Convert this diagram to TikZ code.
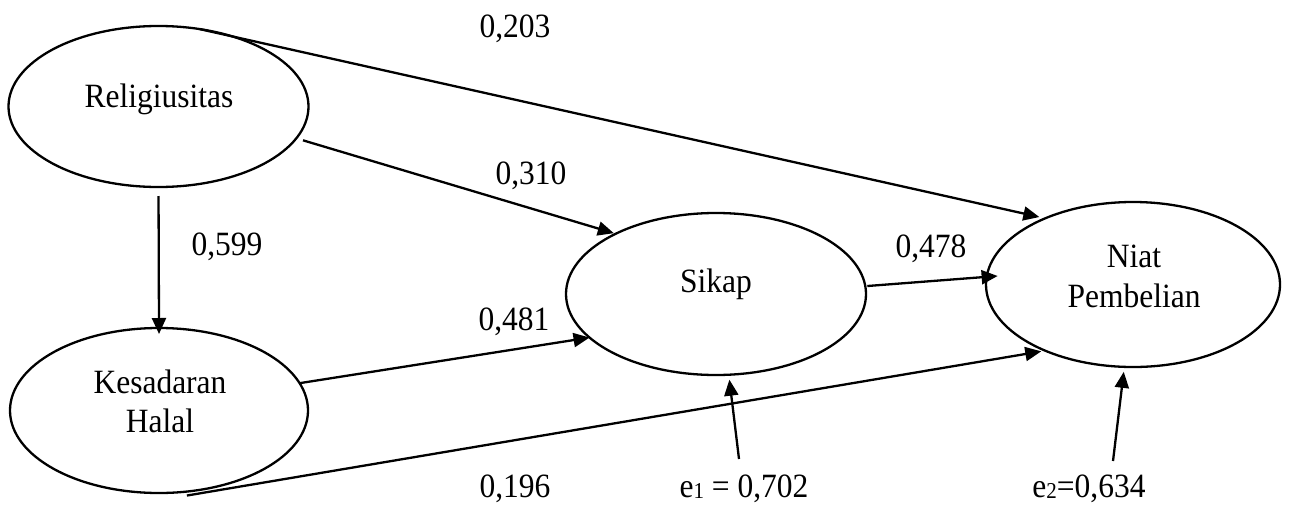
\documentclass[tikz,border=0pt]{standalone}
\usepackage{fontspec}
\setmainfont{Liberation Serif}
\usetikzlibrary{shapes.geometric,arrows.meta}
\newcommand{\vstretch}[1]{\scalebox{1}[1.08]{#1}}
\newcommand{\subidx}[1]{\raisebox{-1.5pt}{\fontsize{21}{21}\selectfont #1}}
\begin{document}
\begin{tikzpicture}[x=1pt,y=-1pt,
  var/.style={ellipse,draw,line width=2.3pt,inner sep=0pt,outer sep=0pt},
  txt/.style={anchor=base,inner sep=0pt,font=\fontsize{31.5}{36}\selectfont},
  link/.style={line width=2.3pt,-{Triangle[length=16pt,width=14pt]}}]
\useasboundingbox (0,0) rectangle (1289,506);
% latent variables
\node[var,minimum width=300pt,minimum height=161pt] (rel) at (158.5,106.5) {};
\node[var,minimum width=298pt,minimum height=165pt] (kh) at (159,410.5) {};
\node[var,minimum width=300pt,minimum height=162pt] (sik) at (716,294) {};
\node[var,minimum width=294pt,minimum height=165pt] (niat) at (1133,284.5) {};
% texts inside
\node[txt] (relT) at (159,107) {\vstretch{Religiusitas}};
\node[txt] (khT1) at (160,393) {\vstretch{Kesadaran}};
\node[txt] (khT2) at (160,432) {\vstretch{Halal}};
\node[txt] (sikT) at (716,292) {\vstretch{Sikap}};
\node[txt] (niatT1) at (1134,267) {\vstretch{Niat}};
\node[txt] (niatT2) at (1134,307) {\vstretch{Pembelian}};
% connectors
\draw[link,shorten >=6pt] (rel.62.4) -- (niat.143.2);
\draw[link,shorten <=7pt,shorten >=2pt] (rel.-13.5) -- (sik.149);
\draw[link,shorten <=9pt,shorten >=-6pt] (rel.south) -- (kh.north);
\draw[link] (kh.11) -- (sik.-161.4);
\draw[link,shorten >=4pt] ([shift={(0,4)}]kh.-71) -- (niat.-143);
\draw[link,shorten <=2pt,shorten >=-11pt] (sik.3) -- (niat.177);
\coordinate (e1) at (739,459);
\coordinate (e2) at (1113,461);
\draw[link,shorten >=5pt] (e1) -- (sik.-81);
\draw[link,shorten >=5pt] (e2) -- (niat.-96.5);
% coefficients
\node[txt] (c203) at (515,37) {\vstretch{0,203}};
\node[txt] (c310) at (531,184) {\vstretch{0,310}};
\node[txt] (c599) at (227,255) {\vstretch{0,599}};
\node[txt] (c478) at (931,257) {\vstretch{0,478}};
\node[txt] (c481) at (514,330) {\vstretch{0,481}};
\node[txt] (c196) at (515,497) {\vstretch{0,196}};
\node[txt] (ce1) at (744,497) {\vstretch{e\subidx{1} = 0,702}};
\node[txt] (ce2) at (1089,497) {\vstretch{e\subidx{2}=0,634}};
\end{tikzpicture}
\end{document}
